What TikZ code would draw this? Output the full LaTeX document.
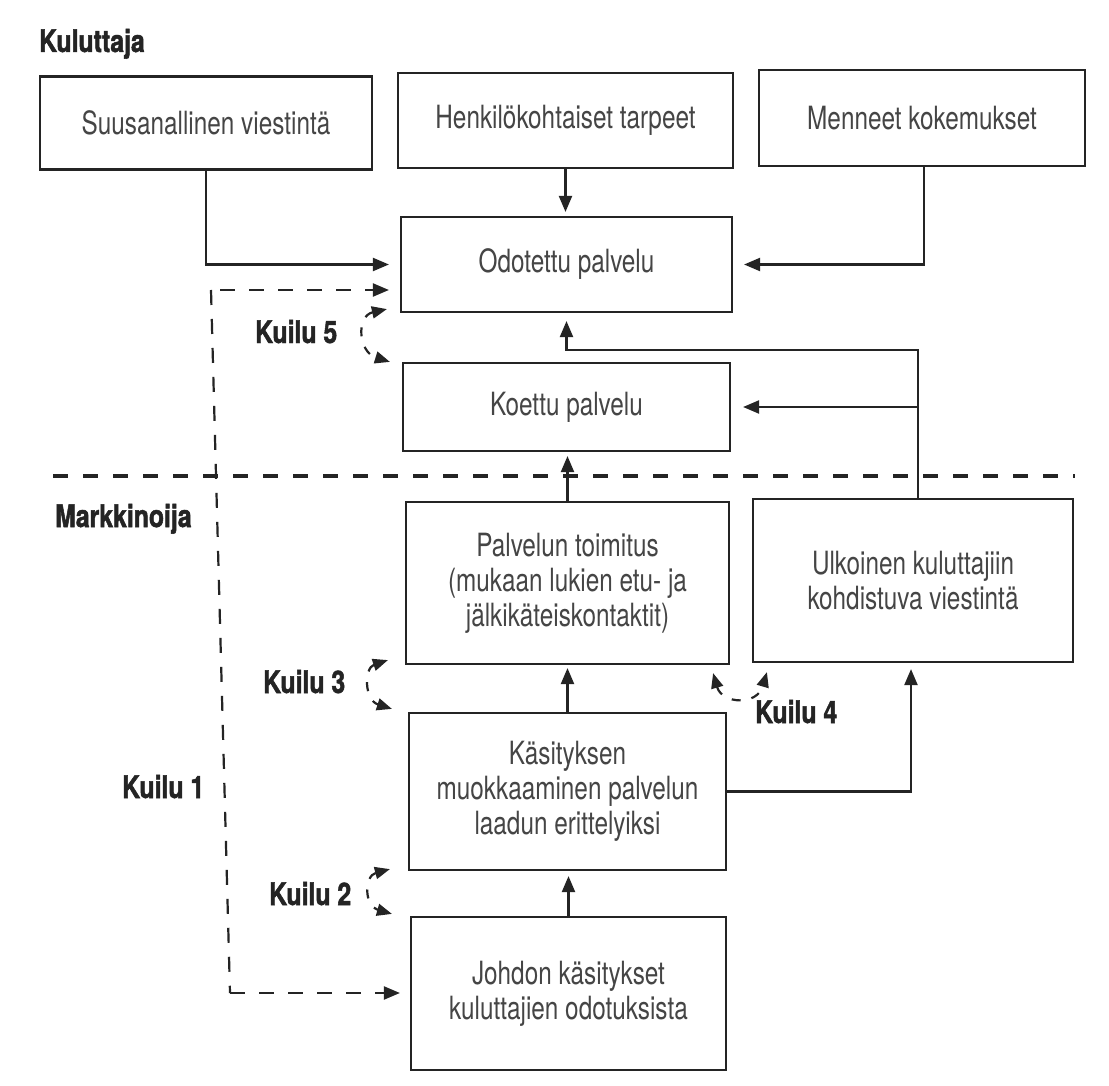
\documentclass[tikz,border=0pt]{standalone}
\usepackage{fontspec}
\setmainfont{TeX Gyre Heros}[FakeStretch=0.76]
\newfontfamily\lblfont{TeX Gyre Heros}[FakeStretch=0.80, FakeBold=1.6]
\usetikzlibrary{arrows.meta,calc}
\definecolor{ink}{gray}{0.14}
\tikzset{
  box/.style={draw=ink, line width=2.2pt, align=center, text=ink!85,
    font=\fontsize{32}{35}\selectfont, inner sep=0pt},
  arr/.style={draw=ink, line width=2.2pt, -{Triangle[length=16pt,width=13pt]}},
  dsh/.style={draw=ink, line width=2.2pt, dash pattern=on 15pt off 14pt},
  gap/.style={draw=ink, line width=2.2pt, dash pattern=on 9pt off 11pt,
    {Triangle[length=15pt,width=12pt]}-{Triangle[length=15pt,width=12pt]}},
  sep/.style={draw=ink, line width=3.8pt, dash pattern=on 15pt off 15pt},
  lbl/.style={text=ink, font=\lblfont\bfseries\fontsize{31}{34}\selectfont, inner sep=0pt}
}
\begin{document}
\begin{tikzpicture}[x=1pt,y=-1pt]
\useasboundingbox[fill=white] (0,0) rectangle (1109,1086);

% boxes
\node[box, minimum width=332pt, minimum height=93pt] (suu) at (206,123) {Suusanallinen viestintä};
\node[box, minimum width=335pt, minimum height=95pt] (hen) at (565.5,120.5) {Henkilökohtaiset tarpeet};
\node[box, minimum width=326pt, minimum height=96pt] (men) at (922,118) {Menneet kokemukset};
\node[box, minimum width=331pt, minimum height=95pt] (odo) at (566.5,264.5) {Odotettu palvelu};
\node[box, minimum width=327pt, minimum height=88pt] (koe) at (566.5,407) {Koettu palvelu};
\node[box, minimum width=323pt, minimum height=162pt] (pal) at (567.5,583) {Palvelun toimitus\\(mukaan lukien etu- ja\\jälkikäteiskontaktit)};
\node[box, minimum width=320pt, minimum height=163pt] (ulk) at (913,580.5) {Ulkoinen kuluttajiin\\kohdistuva viestintä};
\node[box, minimum width=317pt, minimum height=157pt] (kas) at (567.5,791.5) {Käsityksen\\muokkaaminen palvelun\\laadun erittelyiksi};
\node[box, minimum width=315pt, minimum height=153pt] (joh) at (568.5,993.5) {Johdon käsitykset\\kuluttajien odotuksista};

% labels
\node[lbl, anchor=base west] (kul) at (39,52) {Kuluttaja};
\node[lbl, anchor=base west] (mar) at (55,527) {Markkinoija};
\node[lbl, anchor=base west] (k5) at (255,343) {Kuilu 5};
\node[lbl, anchor=base west] (k3) at (263,693) {Kuilu 3};
\node[lbl, anchor=base west] (k1) at (122,798) {Kuilu 1};
\node[lbl, anchor=base west] (k2) at (269,905) {Kuilu 2};
\node[lbl, anchor=base west] (k4) at (755,723) {Kuilu 4};

% separator
\coordinate (sepL) at (53,476);
\coordinate (sepR) at (1075,476);
\draw[sep] (sepL) -- (sepR);

% solid connectors
\draw[arr, shorten >=11pt] (suu.south) |- (odo.west);
\draw[arr, shorten >=4pt] (hen.south) -- (hen.south |- odo.north);
\draw[arr, shorten >=11pt] ([xshift=2pt]men.south) |- (odo.east);
\coordinate (uk) at ($(ulk.north)+(5,0)$);
\coordinate (j1) at ($(uk)+(0,-148)$);
\draw[arr, shorten >=12pt] (uk) |- (koe.east);
\draw[arr, shorten >=8pt] (uk) -- (j1) -| (odo.south);
\draw[arr, shorten >=4pt] (pal.north) -- (pal.north |- koe.south);
\draw[arr, shorten >=3pt] (kas.north) -- (kas.north |- pal.south);
\draw[arr, shorten >=5pt] (joh.north) -- (joh.north |- kas.south);
\draw[arr, shorten >=6pt] (kas.east) -| ([xshift=-2pt]ulk.south);

% Kuilu 1 dashed
\coordinate (k1t) at (211,290);
\coordinate (k1b) at (230,993);
\draw[dsh] (k1t) -- (k1b);
\draw[dsh, -{Triangle[length=16pt,width=13pt]}, shorten >=11pt] ([xshift=9pt]k1t) -- (k1t -| odo.west);
\draw[dsh, -{Triangle[length=16pt,width=13pt]}, shorten >=10pt] (k1b) -- (k1b -| joh.west);

% curved gap arrows
\draw[gap] ($(odo.south west)+(-13,-4)$) .. controls (356,316) and (358,352) .. ($(koe.north west)+(-12,0)$);
\draw[gap] ($(pal.south west)+(-17,-5)$) .. controls (364,668) and (364,700) .. ($(kas.north west)+(-16,-3)$);
\draw[gap] ($(kas.south west)+(-18,-2)$) .. controls (364,876) and (364,906) .. ($(joh.north west)+(-18,-2)$);
\draw[gap] ($(pal.south east)+(-17,8)$) .. controls (722,704) and (757,706) .. ($(ulk.south west)+(15,9)$);
\end{tikzpicture}
\end{document}
